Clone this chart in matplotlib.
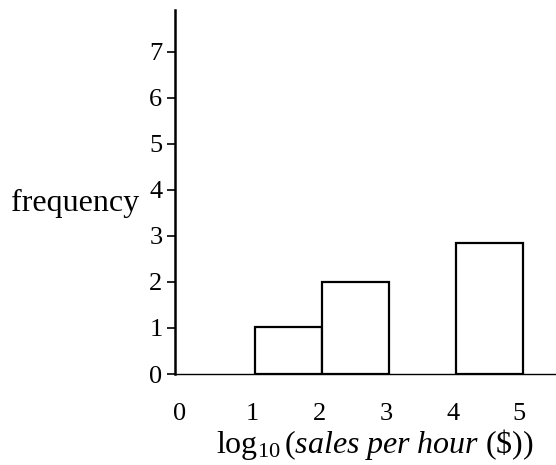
import matplotlib
matplotlib.use("Agg")
import matplotlib.pyplot as plt
import matplotlib.transforms as mtransforms

# Data
bin_left = [1, 2, 4]
bin_width = [1, 1, 1]
freq = [1.03, 2.0, 2.85]
xtick_vals = [0, 1, 2, 3, 4, 5]
ytick_vals = [0, 1, 2, 3, 4, 5, 6, 7]

plt.rcParams['font.family'] = ['Liberation Serif', 'DejaVu Serif']
plt.rcParams['mathtext.fontset'] = 'custom'
plt.rcParams['mathtext.rm'] = 'Liberation Serif'
plt.rcParams['mathtext.it'] = 'Liberation Serif:italic'

W, H = 556, 465
fig = plt.figure(figsize=(W / 100, H / 100), dpi=100)
ax = fig.add_axes([175 / W, 91 / H, (W - 175) / W, (455 - 91) / H])

ax.bar(bin_left, freq, width=bin_width, align='edge', facecolor='white',
       edgecolor='black', linewidth=1.6, zorder=3)

ax.set_xlim(-0.194, 5.49)
ax.set_ylim(0, 7.91)

for s in ['top', 'right']:
    ax.spines[s].set_visible(False)
ax.spines['left'].set_linewidth(1.8)
ax.spines['bottom'].set_linewidth(1.0)

ax.set_yticks(ytick_vals)
ax.set_yticklabels([str(v) for v in ytick_vals])
ax.tick_params(axis='y', direction='out', length=6, width=1.2, pad=3, labelsize=19)

ax.set_xticks(xtick_vals)
ax.set_xticklabels([str(v) for v in xtick_vals])
ax.tick_params(axis='x', length=0, pad=21, labelsize=19)
offsets = [-8, -3, -3, -3, -3, -4]
for lab, dx in zip(ax.get_xticklabels(), offsets):
    lab.set_transform(lab.get_transform() + mtransforms.ScaledTranslation(dx / 100, 0, fig.dpi_scale_trans))

fig.text(11 / W, 1 - 203 / H, 'frequency', fontsize=23, ha='left', va='center')
fig.text(375 / W, 1 - 444 / H,
         r'$\mathrm{log}_{\mathrm{10}}\,(\mathit{sales\ per\ hour}\ (\$))$',
         fontsize=23, ha='center', va='center')

fig.savefig('out.png', dpi=100, facecolor='white')
